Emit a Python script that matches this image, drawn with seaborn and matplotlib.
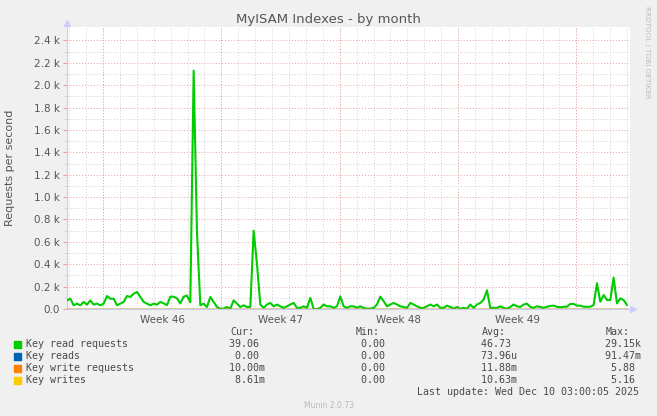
## MyISAM Indexes - by month (munin style) recreated with seaborn/matplotlib

import numpy as np
import pandas as pd
import matplotlib
matplotlib.use('Agg')
import matplotlib.pyplot as plt
import seaborn as sns

# Key read requests per second, one reading every ~4.7 hours over the month
read_requests = [77, 92, 33, 48, 33, 63, 39, 77, 39, 48, 33, 48, 116, 92, 92, 33, 48, 63, 116, 107,
                 137, 152, 107, 63, 48, 33, 48, 39, 63,
                 50, 35, 110, 110, 95, 50, 110, 120, 60, 2130, 680, 33, 48, 18, 107, 63, 18, 3, 3, 18,
                 3, 77, 48, 18, 33, 18, 18, 700, 400,
                 40, 10, 40, 54, 24, 40, 24, 10, 24, 40, 54, 10, 10, 24, 10, 100, 0, 0, 10, 40, 24, 24,
                 10, 24, 113, 24, 10, 24,
                 24, 10, 24, 10, 3, 3, 10, 40, 110, 70, 24, 40, 54, 40, 24, 18, 10, 54, 40, 24, 10, 10,
                 24, 40, 24, 40, 10, 10, 30,
                 18, 3, 18, 3, 10, 3, 40, 10, 40, 54, 83, 167, 10, 10, 10, 24, 10, 3, 18, 40, 24, 18, 40,
                 48, 18, 10, 24, 18, 10,
                 20, 27, 30, 20, 15, 20, 20, 45, 45, 30, 30, 20, 20, 20, 36, 230, 65, 125, 80, 80, 280,
                 50, 95, 80, 36]
# the other three series stay at (practically) zero on this scale
other_level = [0.0, 0.01, 0.01]

series_names = ['Key read requests', 'Key reads', 'Key write requests', 'Key writes']
series_colors = ['#00cc00', '#0066b3', '#ff8000', '#ffcc00']
cur_vals = [(39.06, ''), (0.00, ''), (10.00, 'm'), (8.61, 'm')]
min_vals = [(0.00, ''), (0.00, ''), (0.00, ''), (0.00, '')]
avg_vals = [(46.73, ''), (73.96, 'u'), (11.88, 'm'), (10.63, 'm')]
max_vals = [(29.15, 'k'), (91.47, 'm'), (5.88, ''), (5.16, '')]
week_labels = ['Week 46', 'Week 47', 'Week 48', 'Week 49']

span_days = 33.3
first_week = 2.13  # first week boundary, in days from the left edge
t = np.linspace(0, 33.12, len(read_requests))

txt = '#555555'
plt.rcParams['font.family'] = ['DejaVu Sans']

fig = plt.figure(figsize=(6.57, 4.16), dpi=100, facecolor='#f0f0f0')
ax = fig.add_axes([67/657, 1-309/416, 563/657, 282/416])
ax.set_facecolor('white')

# grid: days/weeks vertically, 100/200 horizontally
week_starts = np.arange(first_week, span_days, 7)
days = np.arange(first_week - 2, span_days, 1)
for d in days:
    ax.axvline(d, color='#cfcfcf', lw=0.7, ls=(0, (1, 2)), zorder=0)
for w in week_starts:
    ax.axvline(w, color='#e8a0a0', lw=0.7, ls=(0, (1, 2)), zorder=0)
for y in np.arange(100, 2500, 200):
    ax.axhline(y, color='#cfcfcf', lw=0.7, ls=(0, (1, 2)), zorder=0)
for y in np.arange(200, 2500, 200):
    ax.axhline(y, color='#e8a0a0', lw=0.7, ls=(0, (1, 2)), zorder=0)

sns.lineplot(x=t, y=read_requests, ax=ax, color=series_colors[0], lw=1.5, zorder=3)
for lvl, c in zip(other_level, series_colors[1:]):
    sns.lineplot(x=t, y=[lvl] * len(t), ax=ax, color=c, lw=1.0, zorder=3)

ax.set_xlim(0, span_days)
ax.set_ylim(0, 2520)

ax.set_yticks(np.arange(0, 2401, 200))
ax.set_yticklabels(['0.0'] + [f'{v/1000:.1f} k' for v in np.arange(200, 2401, 200)])
ax.set_yticks(np.arange(100, 2500, 200), minor=True)
ax.set_xticks(week_starts[:len(week_labels)] + 3.5)
ax.set_xticklabels(week_labels)
ax.tick_params(axis='x', length=0, labelsize=7.5, labelcolor=txt, pad=4)
ax.tick_params(axis='y', length=3, color='#e8a0a0', labelsize=7.5, labelcolor=txt, pad=2)
ax.tick_params(axis='y', which='minor', length=2, color='#cfcfcf')

for s in ['top', 'right']:
    ax.spines[s].set_visible(False)
ax.spines['left'].set_color('#ccccee')
ax.spines['bottom'].set_color('#ccccee')
ax.spines['left'].set_linewidth(0.8)
ax.spines['bottom'].set_linewidth(0.8)

# axis arrows
ax.plot([0], [1.015], marker='^', ms=5, color='#ccccff', transform=ax.transAxes, clip_on=False)
ax.plot([1.005], [0], marker='>', ms=5, color='#ccccff', transform=ax.transAxes, clip_on=False)

ax.set_ylabel('Requests per second', fontsize=8, color=txt)
ax.yaxis.set_label_coords(-0.092, 0.5)

fig.text(0.5, 1 - 19/416, 'MyISAM Indexes - by month', ha='center', va='center', fontsize=9.5, color=txt)
fig.text(647/657, 1 - 52/416, 'RRDTOOL / TOBI OETIKER', rotation=270, ha='center', va='center',
         fontsize=5.2, color='#bbbbbb')

# legend table
mono = dict(family='DejaVu Sans Mono', fontsize=7.2, color='#4a4a4a', va='center')
def fmt(v):
    num, suf = v
    return f'{num:6.2f}{suf if suf else " "}'

cols_x = [223, 349, 475, 599]
for head, x in zip(['Cur:', 'Min:', 'Avg:', 'Max:'], cols_x):
    fig.text((x + 7) / 657, 1 - 332/416, head, ha='left', **mono)
for i, name in enumerate(series_names):
    y = 1 - (344 + 12 * i) / 416
    fig.patches.append(plt.Rectangle((14/657, y - 3.5/416), 7/657, 7/416, color=series_colors[i],
                                     transform=fig.transFigure, figure=fig))
    fig.text(26/657, y, name, ha='left', **mono)
    for vals, x in zip([cur_vals, min_vals, avg_vals, max_vals], cols_x):
        fig.text(x / 657, y, fmt(vals[i]), ha='left', **mono)
fig.text(639/657, 1 - 392/416, 'Last update: Wed Dec 10 03:00:05 2025', ha='right', **mono)
fig.text(0.5, 1 - 406/416, 'Munin 2.0.73', ha='center', va='center', fontsize=5.5, color='#bbbbbb')

fig.savefig('out.png', dpi=100, facecolor=fig.get_facecolor())
